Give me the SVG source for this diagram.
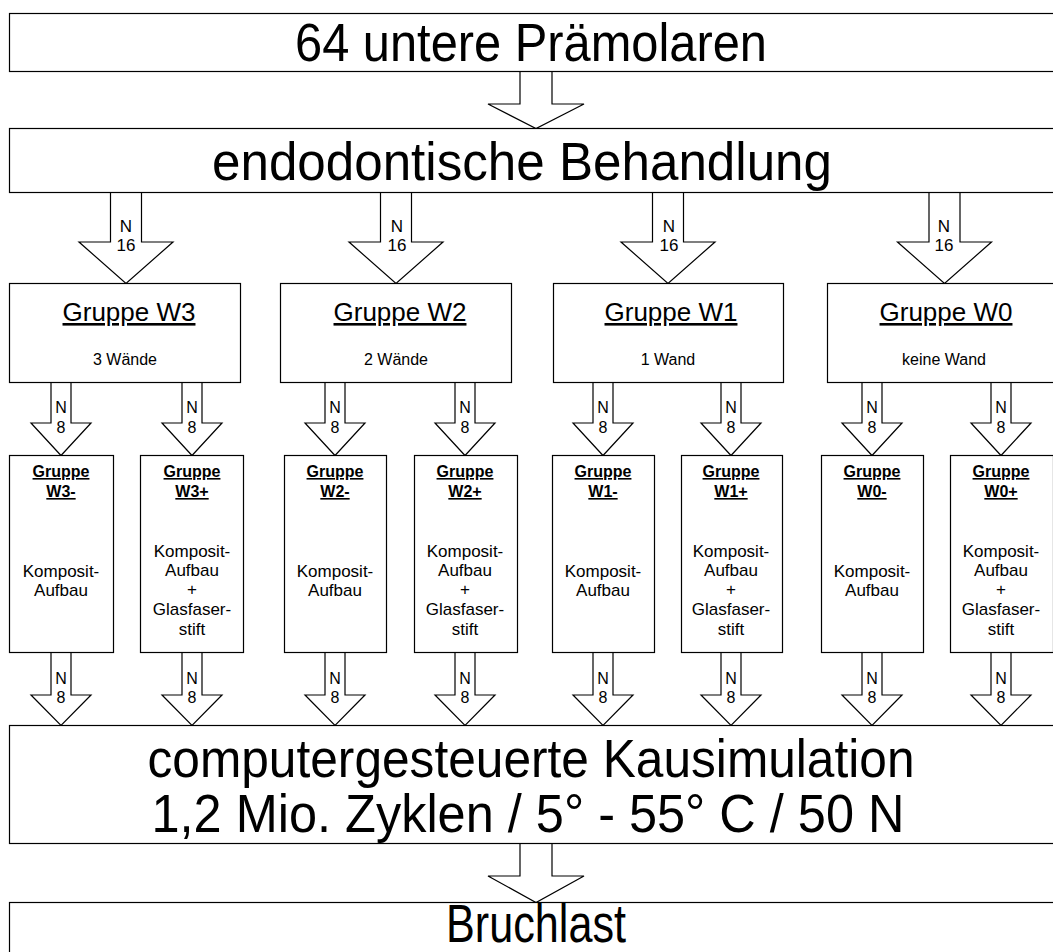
<svg xmlns="http://www.w3.org/2000/svg" width="1053" height="952" viewBox="0 0 1053 952">
<style>
rect, polygon { fill: #fff; stroke: #000; stroke-width: 1.2; }
text { font-family: "Liberation Sans", Arial, sans-serif; fill: #000; text-anchor: middle; }
.big { font-size: 53px; }
.title { font-size: 26px; text-decoration: underline; }
.sub { font-size: 16px; }
.bx { font-size: 17px; }
.st { font-size: 16px; font-weight: bold; text-decoration: underline; }
.lbl { font-size: 16px; }
.n16 { font-size: 17px; }
</style>
<g id="connectors">
  <polygon points="520,71.5 552,71.5 552,104 584,104 536,128.5 488,104 520,104"/>
  <polygon points="110.5,192.5 141.5,192.5 141.5,242 173,242 126,283.5 79,242 110.5,242"/>
  <polygon points="380.5,192.5 411.5,192.5 411.5,242 443,242 396,283.5 349,242 380.5,242"/>
  <polygon points="652.5,192.5 683.5,192.5 683.5,242 715,242 668,283.5 621,242 652.5,242"/>
  <polygon points="929,192.5 960,192.5 960,242 991.5,242 944.5,283.5 897.5,242 929,242"/>
  <polygon points="51,382.5 71,382.5 71,423 91,423 61,455.5 31,423 51,423"/>
  <polygon points="182,382.5 202,382.5 202,423 222,423 192,455.5 162,423 182,423"/>
  <polygon points="325,382.5 345,382.5 345,423 365,423 335,455.5 305,423 325,423"/>
  <polygon points="455,382.5 475,382.5 475,423 495,423 465,455.5 435,423 455,423"/>
  <polygon points="593,382.5 613,382.5 613,423 633,423 603,455.5 573,423 593,423"/>
  <polygon points="721,382.5 741,382.5 741,423 761,423 731,455.5 701,423 721,423"/>
  <polygon points="862,382.5 882,382.5 882,423 902,423 872,455.5 842,423 862,423"/>
  <polygon points="991,382.5 1011,382.5 1011,423 1031,423 1001,455.5 971,423 991,423"/>
  <polygon points="51,652.5 71,652.5 71,695 91,695 61,725.5 31,695 51,695"/>
  <polygon points="182,652.5 202,652.5 202,695 222,695 192,725.5 162,695 182,695"/>
  <polygon points="325,652.5 345,652.5 345,695 365,695 335,725.5 305,695 325,695"/>
  <polygon points="455,652.5 475,652.5 475,695 495,695 465,725.5 435,695 455,695"/>
  <polygon points="593,652.5 613,652.5 613,695 633,695 603,725.5 573,695 593,695"/>
  <polygon points="721,652.5 741,652.5 741,695 761,695 731,725.5 701,695 721,695"/>
  <polygon points="862,652.5 882,652.5 882,695 902,695 872,725.5 842,695 862,695"/>
  <polygon points="991,652.5 1011,652.5 1011,695 1031,695 1001,725.5 971,695 991,695"/>
  <polygon points="520,843.5 552,843.5 552,876 584,876 536,902.5 488,876 520,876"/>
  <g class="n16">
    <text x="126" y="232">N</text><text x="126" y="251">16</text>
    <text x="397" y="232">N</text><text x="397" y="251">16</text>
    <text x="669" y="232">N</text><text x="669" y="251">16</text>
    <text x="944" y="232">N</text><text x="944" y="251">16</text>
  </g>
  <g class="lbl">
    <text x="61" y="413">N</text><text x="61" y="433">8</text>
    <text x="192" y="413">N</text><text x="192" y="433">8</text>
    <text x="335" y="413">N</text><text x="335" y="433">8</text>
    <text x="465" y="413">N</text><text x="465" y="433">8</text>
    <text x="603" y="413">N</text><text x="603" y="433">8</text>
    <text x="731" y="413">N</text><text x="731" y="433">8</text>
    <text x="872" y="413">N</text><text x="872" y="433">8</text>
    <text x="1001" y="413">N</text><text x="1001" y="433">8</text>
    <text x="61" y="684">N</text><text x="61" y="703">8</text>
    <text x="192" y="684">N</text><text x="192" y="703">8</text>
    <text x="335" y="684">N</text><text x="335" y="703">8</text>
    <text x="465" y="684">N</text><text x="465" y="703">8</text>
    <text x="603" y="684">N</text><text x="603" y="703">8</text>
    <text x="731" y="684">N</text><text x="731" y="703">8</text>
    <text x="872" y="684">N</text><text x="872" y="703">8</text>
    <text x="1001" y="684">N</text><text x="1001" y="703">8</text>
  </g>
</g>
<g id="n-start">
  <rect x="9.5" y="13.5" width="1060" height="58"/>
  <text class="big" x="531" y="61" textLength="472" lengthAdjust="spacingAndGlyphs">64 untere Prämolaren</text>
</g>
<g id="n-endo">
  <rect x="9.5" y="128.5" width="1060" height="64"/>
  <text class="big" x="522" y="180" textLength="620" lengthAdjust="spacingAndGlyphs">endodontische Behandlung</text>
</g>
<g id="n-w3">
  <rect x="9.5" y="283.5" width="231" height="99"/>
  <text class="title" x="129" y="321">Gruppe W3</text>
  <text class="sub" x="125" y="365">3 Wände</text>
</g>
<g id="n-w2">
  <rect x="280.5" y="283.5" width="231" height="99"/>
  <text class="title" x="400" y="321">Gruppe W2</text>
  <text class="sub" x="396" y="365">2 Wände</text>
</g>
<g id="n-w1">
  <rect x="553.5" y="283.5" width="230" height="99"/>
  <text class="title" x="671" y="321">Gruppe W1</text>
  <text class="sub" x="668" y="365">1 Wand</text>
</g>
<g id="n-w0">
  <rect x="827.5" y="283.5" width="240" height="99"/>
  <text class="title" x="946" y="321">Gruppe W0</text>
  <text class="sub" x="944" y="365">keine Wand</text>
</g>
<g id="n-w3m">
  <rect x="9.5" y="455.5" width="104" height="197"/>
  <text class="st" x="61" y="477">Gruppe</text><text class="st" x="61" y="497">W3-</text>
  <text class="bx" x="61" y="577">Komposit-</text><text class="bx" x="61" y="596">Aufbau</text>
</g>
<g id="n-w3p">
  <rect x="140.5" y="455.5" width="103" height="197"/>
  <text class="st" x="192" y="477">Gruppe</text><text class="st" x="192" y="497">W3+</text>
  <text class="bx" x="192" y="557">Komposit-</text><text class="bx" x="192" y="576">Aufbau</text>
  <text class="bx" x="192" y="595">+</text><text class="bx" x="192" y="615">Glasfaser-</text>
  <text class="bx" x="192" y="635">stift</text>
</g>
<g id="n-w2m">
  <rect x="284.5" y="455.5" width="102" height="197"/>
  <text class="st" x="335" y="477">Gruppe</text><text class="st" x="335" y="497">W2-</text>
  <text class="bx" x="335" y="577">Komposit-</text><text class="bx" x="335" y="596">Aufbau</text>
</g>
<g id="n-w2p">
  <rect x="414.5" y="455.5" width="103" height="197"/>
  <text class="st" x="465" y="477">Gruppe</text><text class="st" x="465" y="497">W2+</text>
  <text class="bx" x="465" y="557">Komposit-</text><text class="bx" x="465" y="576">Aufbau</text>
  <text class="bx" x="465" y="595">+</text><text class="bx" x="465" y="615">Glasfaser-</text>
  <text class="bx" x="465" y="635">stift</text>
</g>
<g id="n-w1m">
  <rect x="552.5" y="455.5" width="102" height="197"/>
  <text class="st" x="603" y="477">Gruppe</text><text class="st" x="603" y="497">W1-</text>
  <text class="bx" x="603" y="577">Komposit-</text><text class="bx" x="603" y="596">Aufbau</text>
</g>
<g id="n-w1p">
  <rect x="681.5" y="455.5" width="101" height="197"/>
  <text class="st" x="731" y="477">Gruppe</text><text class="st" x="731" y="497">W1+</text>
  <text class="bx" x="731" y="557">Komposit-</text><text class="bx" x="731" y="576">Aufbau</text>
  <text class="bx" x="731" y="595">+</text><text class="bx" x="731" y="615">Glasfaser-</text>
  <text class="bx" x="731" y="635">stift</text>
</g>
<g id="n-w0m">
  <rect x="821.5" y="455.5" width="102" height="197"/>
  <text class="st" x="872" y="477">Gruppe</text><text class="st" x="872" y="497">W0-</text>
  <text class="bx" x="872" y="577">Komposit-</text><text class="bx" x="872" y="596">Aufbau</text>
</g>
<g id="n-w0p">
  <rect x="950.5" y="455.5" width="103" height="197"/>
  <text class="st" x="1001" y="477">Gruppe</text><text class="st" x="1001" y="497">W0+</text>
  <text class="bx" x="1001" y="557">Komposit-</text><text class="bx" x="1001" y="576">Aufbau</text>
  <text class="bx" x="1001" y="595">+</text><text class="bx" x="1001" y="615">Glasfaser-</text>
  <text class="bx" x="1001" y="635">stift</text>
</g>
<g id="n-kau">
  <rect x="9.5" y="725.5" width="1060" height="118"/>
  <text class="big" x="531" y="777" textLength="767" lengthAdjust="spacingAndGlyphs">computergesteuerte Kausimulation</text>
  <text class="big" x="528" y="832" textLength="753" lengthAdjust="spacingAndGlyphs">1,2 Mio. Zyklen / 5° - 55° C / 50 N</text>
</g>
<g id="n-bruch">
  <rect x="9.5" y="902.5" width="1060" height="60"/>
  <text class="big" x="536" y="942" textLength="180" lengthAdjust="spacingAndGlyphs">Bruchlast</text>
</g>
</svg>
